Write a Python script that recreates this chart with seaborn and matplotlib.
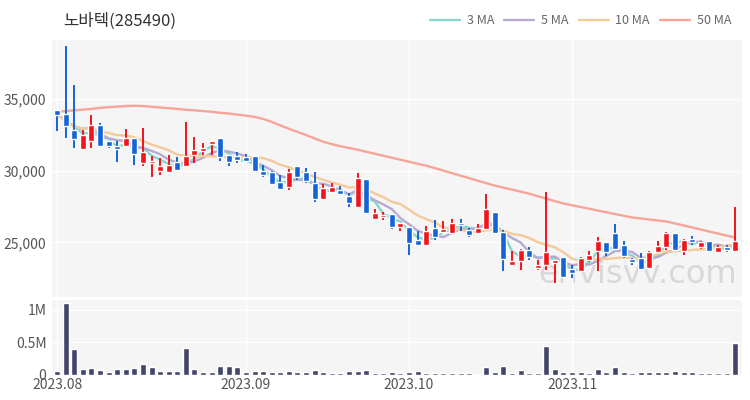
import numpy as np
import pandas as pd
import seaborn as sns
import matplotlib.pyplot as plt

# Chart data
title = '노바텍(285490)'
holidays = ['2023-08-15', '2023-09-28', '2023-09-29', '2023-10-02', '2023-10-03', '2023-10-09']
dates = pd.bdate_range('2023-08-01', '2023-11-28', freq='C', holidays=holidays)

opens = [34200, 33950, 32850, 31500, 32050, 33150, 32100, 31750, 31750, 32250,
         30550, 30500, 29950, 29900, 30600, 30350, 31100, 31350, 31850, 32300,
         31100, 31000, 30950, 31050, 30000, 29900, 29200, 28850, 30350, 29900,
         29150, 28000, 28500, 28650, 28250, 27500, 29400, 26650, 26750, 26950,
         26100, 26100, 25150, 24850, 26000, 25700, 25650, 26350, 25900, 25650,
         25950, 27100, 25700, 23450, 23700, 24450, 23250, 23400, 23600, 24000,
         23150, 23000, 23800, 24400, 25000, 25650, 24800, 23850, 23950, 23250,
         24350, 24650, 25650, 24400, 25250, 24700, 25100, 24300, 24650, 24400]
highs = [34200, 38650, 35950, 32800, 33850, 33300, 32100, 32050, 32900, 32250,
         32950, 31050, 30900, 31100, 30950, 33400, 32350, 31900, 32050, 32300,
         31100, 31300, 31150, 31050, 30400, 30000, 29700, 30100, 30350, 30200,
         29900, 29100, 29150, 28900, 28450, 29850, 29400, 27300, 27100, 26950,
         26350, 26100, 25800, 26150, 26550, 26500, 26600, 26600, 26000, 26300,
         28350, 27100, 25900, 24400, 24550, 24650, 23750, 28500, 23800, 24000,
         23450, 24000, 24400, 25350, 25000, 26300, 25100, 23950, 24250, 24400,
         25100, 25700, 25650, 25250, 25450, 25100, 25100, 24850, 24800, 27500]
lows = [32750, 32250, 31550, 31500, 31550, 31650, 31550, 30600, 31650, 30400,
        30300, 29550, 29700, 29850, 30000, 30300, 30550, 31100, 31100, 30650,
        30300, 30550, 30650, 29900, 29550, 29000, 28650, 28650, 29350, 29150,
        27850, 27950, 28450, 28300, 27500, 27500, 27050, 26600, 26550, 25950,
        25800, 24150, 24750, 24800, 25200, 25700, 25600, 25800, 25400, 25600,
        25900, 25600, 23000, 23400, 23100, 23750, 23100, 23100, 22200, 22500,
        22550, 22950, 23650, 23000, 24050, 24500, 23950, 23450, 23100, 23150,
        24300, 24500, 24400, 24150, 24850, 24550, 24300, 24250, 24350, 24300]
closes = [33900, 33100, 32200, 32500, 33150, 31700, 31750, 31500, 32250, 31150,
          31300, 30700, 30300, 30400, 30050, 31000, 31450, 31600, 32050, 30950,
          30600, 30750, 30700, 29950, 29700, 29100, 28700, 29900, 29550, 29250,
          28000, 28800, 28850, 28350, 27750, 29500, 27050, 27050, 26900, 26100,
          26350, 24950, 24800, 25800, 25400, 25950, 26350, 26200, 25550, 26000,
          27350, 25650, 23850, 23700, 24450, 24000, 23450, 24350, 23800, 22600,
          22850, 23900, 24150, 25100, 24300, 24550, 24050, 23650, 23150, 24300,
          24750, 25650, 24450, 25200, 25000, 25000, 24400, 24650, 24450, 25100]
volumes = [57000, 1100000, 400000, 98000, 114000, 78000, 51000, 88000, 88000, 109000,
           176000, 119000, 62000, 57000, 57000, 410000, 93000, 51000, 51000, 140000,
           140000, 119000, 46000, 67000, 67000, 51000, 46000, 62000, 46000, 46000,
           78000, 46000, 31000, 31000, 57000, 57000, 78000, 36000, 31000, 41000,
           31000, 51000, 57000, 36000, 31000, 25000, 25000, 25000, 25000, 20000,
           130000, 51000, 140000, 36000, 78000, 36000, 36000, 452000, 88000, 46000,
           46000, 46000, 25000, 88000, 46000, 119000, 46000, 25000, 41000, 41000,
           51000, 51000, 57000, 41000, 46000, 25000, 36000, 36000, 25000, 495000]
ma50 = [34100, 34150, 34200, 34250, 34300, 34380, 34420, 34460, 34500, 34520,
        34500, 34450, 34400, 34350, 34300, 34240, 34200, 34150, 34100, 34030,
        33980, 33900, 33830, 33750, 33600, 33400, 33150, 32920, 32700, 32480,
        32250, 32010, 31850, 31700, 31580, 31460, 31320, 31180, 31040, 30900,
        30760, 30620, 30480, 30350, 30180, 30000, 29830, 29650, 29480, 29300,
        29130, 28960, 28820, 28680, 28540, 28400, 28220, 28050, 27880, 27710,
        27590, 27470, 27350, 27220, 27100, 26980, 26860, 26740, 26670, 26600,
        26530, 26460, 26320, 26180, 26040, 25900, 25760, 25620, 25480, 25350]

df = pd.DataFrame({'date': dates, 'open': opens, 'high': highs, 'low': lows,
                   'close': closes, 'volume': volumes, 'ma50': ma50})
df['idx'] = np.arange(len(df))
df['ma3'] = df['close'].rolling(3, min_periods=1).mean()
df['ma5'] = df['close'].rolling(5, min_periods=1).mean()
df['ma10'] = df['close'].rolling(10, min_periods=1).mean()

# Style
sns.set_style('whitegrid', {'axes.facecolor': '#f5f5f6', 'grid.color': 'white',
                            'axes.edgecolor': 'none'})
plt.rcParams['font.family'] = ['Noto Sans CJK KR', 'DejaVu Sans']

up_color = '#f0141c'
down_color = '#1464d6'
ma_colors = {'ma3': '#86d6cc', 'ma5': '#b7a9d2', 'ma10': '#f3ca98', 'ma50': '#f7a596'}
ma_labels = {'ma3': '3 MA', 'ma5': '5 MA', 'ma10': '10 MA', 'ma50': '50 MA'}

fig = plt.figure(figsize=(7.5, 4), dpi=100)
ax = fig.add_axes([52 / 750, 1 - 297 / 400, 690 / 750, 257 / 400])
axv = fig.add_axes([52 / 750, 1 - 375 / 400, 690 / 750, 75 / 400], sharex=ax)

# Watermark behind the candles
ax.text(0.849, 0.088, 'envisvv.com', transform=ax.transAxes, fontsize=23,
        color='#d8d8d8', ha='center', va='center', zorder=0,
        family='DejaVu Sans')

# Moving averages
for col in ['ma3', 'ma5', 'ma10', 'ma50']:
    sns.lineplot(data=df, x='idx', y=col, ax=ax, color=ma_colors[col], lw=1.7,
                 label=ma_labels[col], zorder=2)

# Candles
up = df['close'] >= df['open']
colors = np.where(up, up_color, down_color)
ax.vlines(df['idx'], df['low'], df['high'], colors=colors, lw=1.4, zorder=3)
body = np.maximum((df['close'] - df['open']).abs(), 70)
ax.bar(df['idx'], body, bottom=np.minimum(df['open'], df['close']), width=0.7,
       color=colors, zorder=4)

# Volume
sns.barplot(data=df, x='idx', y='volume', ax=axv, color='#44456b', width=0.7,
            native_scale=True, saturation=1, errorbar=None, zorder=3)

# Axes
month_pos = df.groupby(df['date'].dt.to_period('M'))['idx'].min().tolist()
month_lbl = [d.strftime('%Y.%m') for d in df['date'].iloc[month_pos]]

ax.set_xlim(-0.6, 79.8)
ax.set_ylim(21200, 39100)
ax.set_yticks([25000, 30000, 35000])
ax.set_yticklabels(['{:,}'.format(v) for v in [25000, 30000, 35000]])
ax.set_xticks(month_pos)
ax.tick_params(axis='x', labelbottom=False, length=0)
ax.tick_params(axis='y', length=0, labelsize=10, labelcolor='#555555', pad=4)
ax.set_xlabel('')
ax.set_ylabel('')
ax.grid(True, color='white', lw=1)
ax.get_legend().remove()

axv.set_ylim(0, 1150000)
axv.set_yticks([0, 500000, 1000000])
axv.set_yticklabels(['0', '0.5M', '1M'])
axv.set_xticks(month_pos)
axv.set_xticklabels(month_lbl)
axv.tick_params(length=0, labelsize=10, labelcolor='#555555', pad=2)
axv.tick_params(axis='y', pad=4)
axv.set_xlabel('')
axv.set_ylabel('')
axv.grid(True, color='white', lw=1)
for a in (ax, axv):
    for s in a.spines.values():
        s.set_visible(False)

# Title and legend
fig.text(63 / 750, 1 - 21 / 400, title, fontsize=12, color='#333333', va='center')
handles, labels = ax.get_legend_handles_labels()
fig.legend(handles, labels, loc='center right', bbox_to_anchor=(0.99, 1 - 21 / 400),
           ncol=4, frameon=False, fontsize=9, handlelength=2.4, columnspacing=0.8,
           handletextpad=0.55, labelcolor='#666666')

fig.savefig('out.png', dpi=100)
